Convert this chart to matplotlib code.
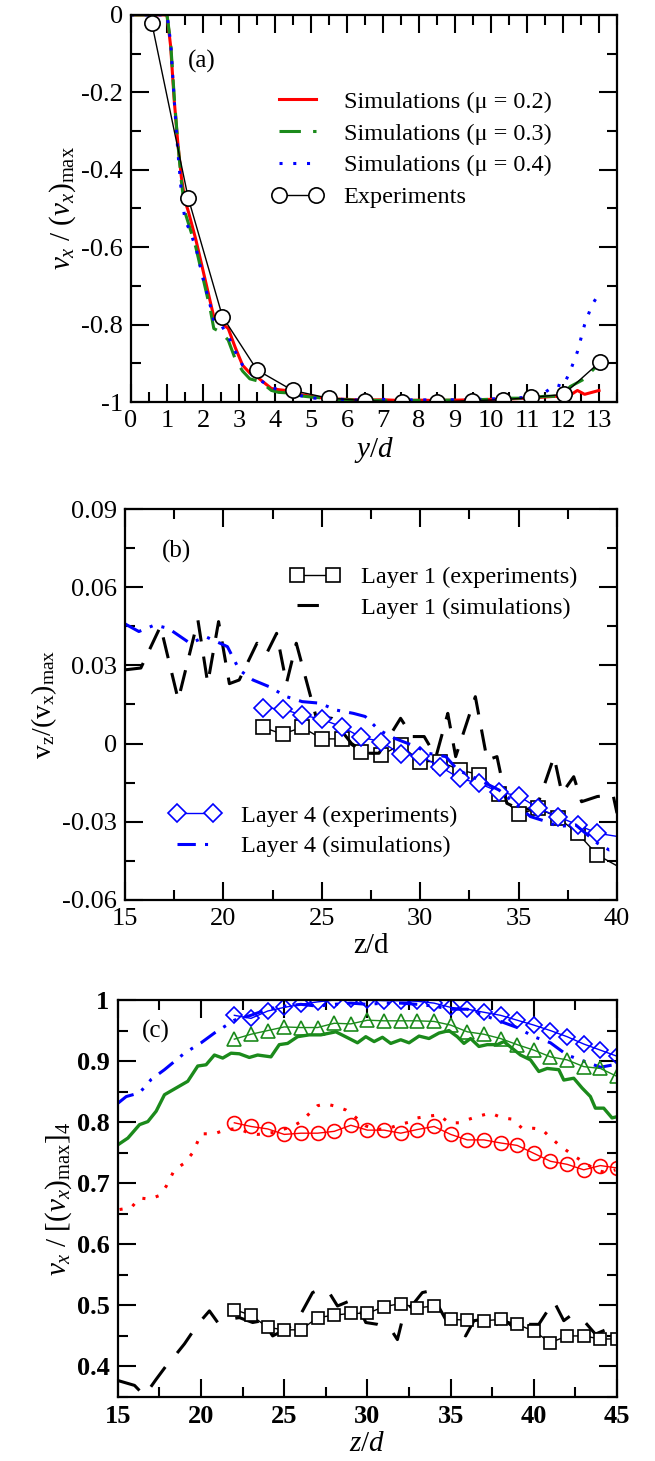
import matplotlib
matplotlib.use('Agg')
import matplotlib.pyplot as plt
from matplotlib.ticker import MultipleLocator, FuncFormatter

plt.rcParams['font.family'] = ['Liberation Serif', 'DejaVu Serif']
plt.rcParams['mathtext.fontset'] = 'custom'
plt.rcParams['mathtext.rm'] = 'Liberation Serif'
plt.rcParams['mathtext.it'] = 'Liberation Serif:italic'
plt.rcParams['mathtext.bf'] = 'Liberation Serif:bold'
plt.rcParams['axes.unicode_minus'] = False

# ---------------- panel (a) data ----------------
a_exp_y = [0.58, 1.59, 2.54, 3.50, 4.49, 5.49, 6.50, 7.52, 8.51, 9.48, 10.33, 11.12, 12.02, 13.03]
a_exp_v = [-0.022, -0.473, -0.779, -0.917, -0.970, -0.990, -0.996, -1.0, -1.0, -0.996, -0.994, -0.988, -0.980, -0.896]

a_sim_y = [0.0, 0.5, 1.0, 1.1, 1.2, 1.3, 1.4, 1.5, 1.6, 1.8, 2.0, 2.2, 2.3, 2.5, 2.7, 2.9,
           3.1, 3.3, 3.5, 3.7, 3.9, 4.1, 4.3, 4.5, 4.8, 5.1, 5.4, 5.7, 6.0, 6.5, 7.0, 7.5,
           8.0, 8.5, 9.0, 9.5, 10.0, 10.5, 11.0, 11.5, 11.8, 12.0, 12.2, 12.4, 12.6, 12.8, 13.0]
a_mu02 = [0.0, 0.0, 0.0, -0.08, -0.22, -0.33, -0.42, -0.48, -0.51, -0.58, -0.66, -0.74, -0.78,
          -0.795, -0.81, -0.86, -0.905, -0.925, -0.935, -0.95, -0.965, -0.968, -0.97, -0.978,
          -0.982, -0.987, -0.99, -0.992, -0.993, -0.995, -0.994, -0.996, -0.995, -0.996, -0.995,
          -0.994, -0.993, -0.992, -0.99, -0.987, -0.985, -0.99, -0.982, -0.97, -0.98, -0.975, -0.97]
a_mu03 = [0.0, 0.0, 0.0, -0.07, -0.21, -0.33, -0.43, -0.51, -0.54, -0.60, -0.68, -0.76, -0.81,
          -0.82, -0.84, -0.89, -0.92, -0.94, -0.945, -0.955, -0.97, -0.975, -0.976, -0.98,
          -0.985, -0.988, -0.99, -0.993, -0.994, -0.995, -0.996, -0.995, -0.996, -0.995, -0.995,
          -0.994, -0.993, -0.99, -0.99, -0.985, -0.985, -0.98, -0.96, -0.95, -0.94, -0.92, -0.90]
a_mu04 = [0.0, 0.0, 0.0, -0.07, -0.22, -0.35, -0.46, -0.53, -0.55, -0.60, -0.68, -0.75, -0.79,
          -0.80, -0.83, -0.87, -0.905, -0.925, -0.94, -0.95, -0.96, -0.97, -0.975, -0.98,
          -0.985, -0.99, -0.99, -0.992, -0.994, -0.995, -0.993, -0.995, -0.994, -0.995, -0.994,
          -0.993, -0.992, -0.99, -0.988, -0.975, -0.955, -0.96, -0.92, -0.87, -0.80, -0.75, -0.72]

# ---------------- panel (b) data ----------------
b_z_exp = [22, 23, 24, 25, 26, 27, 28, 29, 30, 31, 32, 33, 34, 35, 36, 37, 38, 39, 40.5]
b_l1_exp = [0.0063, 0.0036, 0.0063, 0.0018, 0.0018, -0.0031, -0.0045, -0.0005, -0.0069,
            -0.0069, -0.0101, -0.0119, -0.0193, -0.0271, -0.0248, -0.0284, -0.0344, -0.0427, -0.0490]
b_z_exp4 = [22, 23, 24, 25, 26, 27, 28, 29, 30, 31, 32, 33, 34, 35, 36, 37, 38, 39, 40.5]
b_l4_exp = [0.0138, 0.0132, 0.0110, 0.0093, 0.0065, 0.0024, 0.0008, -0.0040, -0.0047, -0.0088,
            -0.0133, -0.0153, -0.0185, -0.0201, -0.0248, -0.0280, -0.0312, -0.0344, -0.0362]

b_z_sim1 = [15.0, 15.8, 16.8, 17.7, 18.7, 19.2, 19.75, 20.3, 20.8, 21.7, 22.2, 22.7, 23.2, 23.7,
            24.7, 25.5, 26.5, 27.2, 27.9, 29.0, 29.6, 30.2, 30.8, 31.4, 31.8, 32.8, 33.4, 33.9,
            34.4, 35.1, 35.9, 36.8, 37.2, 37.8, 38.2, 39.0, 39.8, 40.0]
b_l1_sim = [0.0283, 0.029, 0.045, 0.0168, 0.0474, 0.0231, 0.0468, 0.023, 0.0244, 0.0385, 0.0347,
            0.0423, 0.0231, 0.0385, 0.0104, 0.0097, 0.0001, -0.0037, -0.0037, 0.0097, 0.0027,
            0.0027, -0.005, 0.0116, -0.005, 0.018, -0.0063, -0.005, -0.0229, -0.0254, -0.0248,
            -0.005, -0.0191, -0.0127, -0.0223, -0.0203, -0.0197, -0.0267]
b_z_sim4 = [15.0, 15.7, 16.5, 17.2, 18.3, 19.1, 20.2, 20.8, 21.5, 22.3, 23.2, 24.0, 24.9, 25.7,
            26.6, 27.2, 27.9, 28.7, 29.8, 30.4, 31.3, 31.9, 33.0, 34.0, 34.9, 35.6, 36.4, 37.0,
            37.9, 39.0, 39.6, 40.0]
b_l4_sim = [0.0459, 0.043, 0.0455, 0.0442, 0.0385, 0.041, 0.0372, 0.0283, 0.0244, 0.0219, 0.018,
            0.0161, 0.0155, 0.0129, 0.0116, 0.0104, 0.0052, 0.002, -0.0012, -0.0037, -0.005,
            -0.0101, -0.014, -0.0178, -0.0235, -0.028, -0.0299, -0.0318, -0.0312, -0.0382,
            -0.0408, -0.0402]

# ---------------- panel (c) data ----------------
c_z_exp = list(range(22, 46))
c_l4_exp = [0.975, 0.970, 0.982, 0.988, 0.993, 0.997, 1.0, 1.002, 1.0, 0.999, 0.999, 0.998,
            0.995, 0.988, 0.985, 0.980, 0.975, 0.967, 0.959, 0.950, 0.940, 0.928, 0.918, 0.908]
c_l3_exp = [0.936, 0.944, 0.950, 0.956, 0.955, 0.955, 0.962, 0.961, 0.967, 0.966, 0.966, 0.966,
            0.965, 0.959, 0.948, 0.944, 0.937, 0.927, 0.918, 0.907, 0.902, 0.891, 0.888, 0.875]
c_l2_exp = [0.799, 0.793, 0.789, 0.780, 0.782, 0.782, 0.785, 0.795, 0.787, 0.787, 0.782, 0.788,
            0.793, 0.780, 0.771, 0.771, 0.766, 0.762, 0.749, 0.736, 0.731, 0.722, 0.729, 0.725]
c_l1_exp = [0.493, 0.484, 0.464, 0.460, 0.460, 0.480, 0.484, 0.487, 0.487, 0.498, 0.503, 0.496,
            0.499, 0.477, 0.476, 0.475, 0.477, 0.469, 0.458, 0.439, 0.450, 0.450, 0.445, 0.445]

c_z_sim4 = [15.0, 15.5, 16.3, 17.0, 17.8, 19.0, 20.0, 20.8, 22.0, 23.0, 24.0, 25.0, 26.0, 27.0,
            28.0, 29.0, 30.0, 31.0, 32.0, 33.0, 34.0, 35.0, 36.0, 37.0, 38.0, 39.0, 40.0, 41.0,
            42.0, 43.0, 44.0, 45.0]
c_l4_sim = [0.831, 0.842, 0.848, 0.870, 0.886, 0.913, 0.930, 0.946, 0.967, 0.975, 0.985, 0.990,
            0.993, 0.990, 0.993, 0.995, 0.993, 0.995, 0.995, 0.993, 0.990, 0.985, 0.985, 0.975,
            0.965, 0.955, 0.940, 0.930, 0.910, 0.900, 0.890, 0.895]

c_z_sim3 = [15.0, 15.6, 16.3, 16.8, 17.3, 17.8, 18.5, 19.2, 19.8, 20.3, 20.8, 21.3, 21.8, 22.3,
            22.9, 23.4, 24.2, 24.7, 25.2, 25.8, 26.5, 27.2, 28.1, 28.9, 29.4, 29.9, 30.4, 30.9,
            31.4, 32.0, 32.5, 33.1, 33.7, 34.3, 34.9, 35.4, 35.8, 36.2, 36.7, 37.2, 37.8, 38.2,
            38.7, 39.2, 39.8, 40.3, 40.8, 41.5, 41.8, 42.4, 42.9, 43.4, 43.7, 44.2, 44.7, 45.0]
c_l3_sim = [0.763, 0.774, 0.796, 0.801, 0.818, 0.845, 0.856, 0.867, 0.892, 0.894, 0.910, 0.905,
            0.913, 0.912, 0.906, 0.910, 0.907, 0.927, 0.929, 0.940, 0.943, 0.943, 0.948, 0.937,
            0.930, 0.940, 0.932, 0.939, 0.929, 0.935, 0.930, 0.941, 0.937, 0.946, 0.950, 0.940,
            0.929, 0.937, 0.924, 0.927, 0.927, 0.932, 0.921, 0.910, 0.902, 0.883, 0.888, 0.886,
            0.869, 0.872, 0.856, 0.842, 0.823, 0.823, 0.807, 0.809]

c_z_sim2 = [15.1, 15.8, 16.3, 16.9, 17.5, 17.9, 18.4, 19.0, 19.5, 20.0, 20.8, 21.4, 22.2, 22.9,
            23.4, 24.3, 25.5, 26.0, 26.5, 27.0, 27.5, 28.1, 28.7, 29.2, 29.9, 30.5, 31.3, 31.9,
            32.5, 33.0, 33.7, 34.3, 34.9, 35.5, 36.0, 36.7, 37.4, 38.1, 38.7, 39.3, 40.0, 40.5,
            40.8, 41.5, 42.4, 43.1, 43.7, 44.4, 44.9]
c_l2_sim = [0.657, 0.660, 0.676, 0.674, 0.680, 0.695, 0.722, 0.733, 0.750, 0.781, 0.781, 0.787,
            0.790, 0.782, 0.780, 0.783, 0.793, 0.801, 0.814, 0.827, 0.830, 0.826, 0.820, 0.810,
            0.794, 0.788, 0.790, 0.796, 0.800, 0.807, 0.810, 0.812, 0.799, 0.799, 0.804, 0.810,
            0.815, 0.807, 0.805, 0.790, 0.790, 0.788, 0.780, 0.763, 0.745, 0.733, 0.722, 0.717,
            0.722]

c_z_sim1 = [15.0, 16.0, 16.6, 17.3, 17.9, 18.5, 19.0, 19.8, 20.5, 21.0, 21.6, 22.3, 23.1, 23.7,
            24.3, 25.1, 25.7, 26.1, 26.7, 27.2, 27.7, 28.2, 28.9, 29.4, 29.9, 30.6, 31.4, 31.8,
            32.2, 32.8, 33.3, 33.8, 34.2, 34.7, 35.3, 35.9, 36.4, 36.9, 37.6, 38.2, 38.7, 39.2,
            39.7, 40.3, 41.2, 41.8, 42.2, 43.0, 43.7, 44.4, 45.0]
c_l1_sim = [0.377, 0.369, 0.352, 0.379, 0.401, 0.420, 0.437, 0.469, 0.491, 0.472, 0.477, 0.480,
            0.472, 0.475, 0.450, 0.461, 0.472, 0.491, 0.521, 0.527, 0.521, 0.499, 0.507, 0.502,
            0.472, 0.469, 0.461, 0.444, 0.488, 0.504, 0.521, 0.524, 0.502, 0.477, 0.464, 0.450,
            0.475, 0.477, 0.466, 0.477, 0.466, 0.480, 0.469, 0.469, 0.507, 0.475, 0.483, 0.475,
            0.453, 0.461, 0.456]

RED = '#ff0000'
GREEN = '#1b8a1b'
BLUE = '#0000ff'
TICK_FS = 19
LEG_FS = 17.5


def style_axes(ax, bold=False):
    for s in ax.spines.values():
        s.set_linewidth(1.6)
    ax.tick_params(which='both', direction='in', top=True, right=True, width=1.5,
                   labelsize=TICK_FS, pad=6)
    ax.tick_params(which='major', length=13)
    ax.tick_params(which='minor', length=7)
    if bold:
        for lab in ax.get_xticklabels() + ax.get_yticklabels():
            lab.set_fontweight('bold')


def plain(v, pos):
    s = f'{v:.2f}'.rstrip('0').rstrip('.')
    return '0' if s in ('-0', '0') else s


fig = plt.figure(figsize=(6.55, 14.61), dpi=100)

# ---------------- (a) ----------------
ax = fig.add_axes([0.200, 0.7248, 0.742, 0.265])
ax.plot(a_sim_y, a_mu02, color=RED, lw=2.2, label='Simulations (\u03bc = 0.2)')
ax.plot(a_sim_y, a_mu03, color=GREEN, lw=2.2, dashes=(7, 4), label='Simulations (\u03bc = 0.3)')
ax.plot(a_sim_y, a_mu04, color=BLUE, lw=2.2, dashes=(1, 3.5), label='Simulations (\u03bc = 0.4)')
ax.plot(a_exp_y, a_exp_v, color='black', lw=1, marker='o', ms=11, mfc='white', mec='black',
        mew=1.2, label='Experiments')
ax.set_xlim(0, 13.5)
ax.set_ylim(-1, 0)
ax.xaxis.set_major_locator(MultipleLocator(1))
ax.xaxis.set_minor_locator(MultipleLocator(0.5))
ax.yaxis.set_major_locator(MultipleLocator(0.2))
ax.yaxis.set_minor_locator(MultipleLocator(0.1))
ax.yaxis.set_major_formatter(FuncFormatter(plain))
style_axes(ax)
ax.set_xlabel(r'$y/d$', fontsize=21, labelpad=2)
ax.set_ylabel(r'$v_x\ /\ (v_x)_{\rm max}$', fontsize=21, labelpad=2)
ax.text(1.96, -0.12, '(a)', fontsize=18, ha='center', va='center')
ax.legend(loc='upper left', bbox_to_anchor=(0.265, 0.835), frameon=False, fontsize=LEG_FS,
          handlelength=2.1, handletextpad=0.85, labelspacing=0.4, numpoints=2, borderpad=0)

# ---------------- (b) ----------------
ax = fig.add_axes([0.191, 0.384, 0.751, 0.2676])
l1e, = ax.plot(b_z_exp, b_l1_exp, color='black', lw=1, marker='s', ms=10, mfc='white',
               mec='black', mew=1.2, label='Layer 1 (experiments)')
l1s, = ax.plot(b_z_sim1, b_l1_sim, color='black', lw=2.2, dashes=(7, 5),
               label='Layer 1 (simulations)')
l4e, = ax.plot(b_z_exp4, b_l4_exp, color=BLUE, lw=1, marker='D', ms=9, mfc='white',
               mec=BLUE, mew=1.2, label='Layer 4 (experiments)')
l4s, = ax.plot(b_z_sim4, b_l4_sim, color=BLUE, lw=2.2, dashes=(6, 3, 1, 3, 1, 3),
               label='Layer 4 (simulations)')
ax.set_xlim(15, 40)
ax.set_ylim(-0.06, 0.09)
ax.xaxis.set_major_locator(MultipleLocator(5))
ax.xaxis.set_minor_locator(MultipleLocator(2.5))
ax.yaxis.set_major_locator(MultipleLocator(0.03))
ax.yaxis.set_minor_locator(MultipleLocator(0.015))
ax.yaxis.set_major_formatter(FuncFormatter(plain))
style_axes(ax)
ax.set_xlabel('z/d', fontsize=21, labelpad=2)
ax.set_ylabel(r'v$_{\rm z}$/(v$_{\rm x}$)$_{\rm max}$', fontsize=20, labelpad=2)
ax.text(17.6, 0.0737, '(b)', fontsize=18, ha='center', va='center')
leg1 = ax.legend(handles=[l1e, l1s], loc='upper left', bbox_to_anchor=(0.31, 0.885),
                 frameon=False, fontsize=LEG_FS, handlelength=2.1, handletextpad=0.85,
                 labelspacing=0.35, numpoints=2, borderpad=0)
ax.add_artist(leg1)
ax.legend(handles=[l4e, l4s], loc='upper left', bbox_to_anchor=(0.065, 0.275),
          frameon=False, fontsize=LEG_FS, handlelength=2.1, handletextpad=0.85,
          labelspacing=0.35, numpoints=2, borderpad=0)

# ---------------- (c) ----------------
ax = fig.add_axes([0.180, 0.0438, 0.762, 0.2717])
ax.plot(c_z_sim4, c_l4_sim, color=BLUE, lw=2.2, dashes=(6, 3, 1, 3, 1, 3))
ax.plot(c_z_exp, c_l4_exp, color=BLUE, lw=1, marker='D', ms=8.5, mfc='none', mec=BLUE, mew=1.2)
ax.plot(c_z_sim3, c_l3_sim, color=GREEN, lw=2.4)
ax.plot(c_z_exp, c_l3_exp, color=GREEN, lw=1, marker='^', ms=10, mfc='none', mec=GREEN, mew=1.2)
ax.plot(c_z_sim2, c_l2_sim, color=RED, lw=2.2, dashes=(1, 3.5))
ax.plot(c_z_exp, c_l2_exp, color=RED, lw=1, marker='o', ms=10, mfc='none', mec=RED, mew=1.2)
ax.plot(c_z_sim1, c_l1_sim, color='black', lw=2.2, dashes=(8, 6))
ax.plot(c_z_exp, c_l1_exp, color='black', lw=1, marker='s', ms=9, mfc='white', mec='black',
        mew=1.2)
ax.set_xlim(15, 45)
ax.set_ylim(0.35, 1.0)
ax.xaxis.set_major_locator(MultipleLocator(5))
ax.xaxis.set_minor_locator(MultipleLocator(2.5))
ax.yaxis.set_major_locator(MultipleLocator(0.1))
ax.yaxis.set_minor_locator(MultipleLocator(0.05))
ax.yaxis.set_major_formatter(FuncFormatter(plain))
style_axes(ax, bold=True)
ax.set_xlabel(r'$z/d$', fontsize=21, labelpad=2)
ax.set_ylabel(r'$v_x\ /\ [(v_x)_{\rm max}]_4$', fontsize=21, labelpad=2)
ax.text(17.3, 0.948, '(c)', fontsize=18, ha='center', va='center')

fig.savefig('out.png', dpi=100)
